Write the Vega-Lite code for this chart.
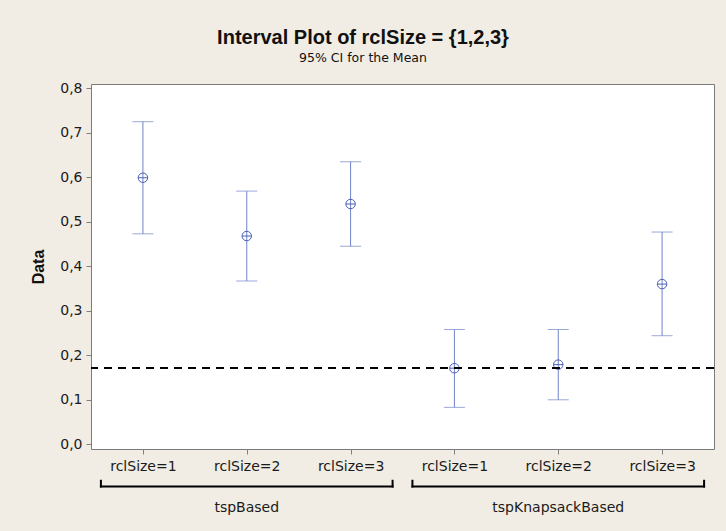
{
  "$schema": "https://vega.github.io/schema/vega-lite/v6.json",
  "autosize": "none",
  "width": 623,
  "height": 365,
  "padding": {"left": 91, "top": 84, "right": 12, "bottom": 82},
  "background": "#f1ede4",
  "config": {
    "view": {"fill": "white", "stroke": "#7a7a7a", "strokeWidth": 1},
    "axis": {"grid": false, "domain": false, "tickSize": 5, "tickColor": "#808080", "labelFont": "DejaVu Sans", "labelFontSize": 14, "labelColor": "#1a1a1a"}
  },
  "title": {
    "text": "Interval Plot of rclSize = {1,2,3}",
    "subtitle": "95% CI for the Mean",
    "anchor": "middle",
    "frame": "group",
    "dx": -39.5,
    "font": "Liberation Sans",
    "fontSize": 20,
    "fontWeight": "bold",
    "color": "#111111",
    "subtitleFont": "DejaVu Sans",
    "subtitleFontSize": 12.5,
    "subtitleColor": "#111111",
    "subtitlePadding": 4,
    "offset": 17
  },
  "data": {
    "values": [
      {"group": "tspBased", "rcl": 1, "idx": 1, "mean": 0.599, "lower": 0.473, "upper": 0.725},
      {"group": "tspBased", "rcl": 2, "idx": 2, "mean": 0.468, "lower": 0.367, "upper": 0.569},
      {"group": "tspBased", "rcl": 3, "idx": 3, "mean": 0.540, "lower": 0.445, "upper": 0.635},
      {"group": "tspKnapsackBased", "rcl": 1, "idx": 4, "mean": 0.171, "lower": 0.083, "upper": 0.258},
      {"group": "tspKnapsackBased", "rcl": 2, "idx": 5, "mean": 0.179, "lower": 0.100, "upper": 0.258},
      {"group": "tspKnapsackBased", "rcl": 3, "idx": 6, "mean": 0.360, "lower": 0.244, "upper": 0.477}
    ]
  },
  "encoding": {
    "x": {
      "field": "idx",
      "type": "quantitative",
      "scale": {"domain": [0.5, 6.5], "nice": false, "zero": false},
      "axis": {
        "title": null,
        "values": [1, 2, 3, 4, 5, 6],
        "labelExpr": "'rclSize=' + ((datum.value - 1) % 3 + 1)",
        "labelPadding": 5
      }
    }
  },
  "layer": [
    {
      "mark": {"type": "rule", "color": "#7083c8", "strokeWidth": 1},
      "encoding": {
        "y": {
          "field": "lower",
          "type": "quantitative",
          "scale": {"domain": [-0.0106, 0.8097], "nice": false, "zero": false},
          "axis": {
            "title": "Data",
            "titleFont": "Liberation Sans",
            "titleFontSize": 16,
            "titleFontWeight": "bold",
            "titleColor": "#111111",
            "titlePadding": 13,
            "values": [0, 0.1, 0.2, 0.3, 0.4, 0.5, 0.6, 0.7, 0.8],
            "labelExpr": "replace(format(datum.value, '.1f'), '.', ',')",
            "labelPadding": 4
          }
        },
        "y2": {"field": "upper"}
      }
    },
    {
      "mark": {"type": "tick", "orient": "horizontal", "color": "#7083c8", "size": 21, "thickness": 1},
      "encoding": {"y": {"field": "lower", "type": "quantitative"}}
    },
    {
      "mark": {"type": "tick", "orient": "horizontal", "color": "#7083c8", "size": 21, "thickness": 1},
      "encoding": {"y": {"field": "upper", "type": "quantitative"}}
    },
    {
      "mark": {"type": "point", "shape": "M-1,0A1,1,0,1,1,1,0A1,1,0,1,1,-1,0ZM-1,0L1,0", "size": 90, "filled": false, "stroke": "#4a5fb8", "strokeWidth": 1, "opacity": 1},
      "encoding": {"y": {"field": "mean", "type": "quantitative"}}
    },
    {
      "mark": {"type": "rule", "color": "#000000", "strokeWidth": 1.5, "strokeDash": [8, 6]},
      "encoding": {"y": {"datum": 0.172}, "x": null}
    },
    {
      "transform": [{"aggregate": [{"op": "min", "field": "idx", "as": "first"}, {"op": "max", "field": "idx", "as": "last"}], "groupby": ["group"]}],
      "layer": [
        {
          "mark": {"type": "rule", "color": "#000000", "strokeWidth": 2, "strokeCap": "square", "xOffset": -42, "x2Offset": 42},
          "encoding": {"x": {"field": "first", "type": "quantitative"}, "x2": {"field": "last"}, "y": {"datum": -0.095}}
        },
        {
          "mark": {"type": "rule", "color": "#000000", "strokeWidth": 2, "strokeCap": "square", "xOffset": -42},
          "encoding": {"x": {"field": "first", "type": "quantitative"}, "y": {"datum": -0.095}, "y2": {"datum": -0.082}}
        },
        {
          "mark": {"type": "rule", "color": "#000000", "strokeWidth": 2, "strokeCap": "square", "xOffset": 42},
          "encoding": {"x": {"field": "last", "type": "quantitative"}, "y": {"datum": -0.095}, "y2": {"datum": -0.082}}
        }
      ]
    },
    {
      "transform": [{"aggregate": [{"op": "mean", "field": "idx", "as": "center"}], "groupby": ["group"]}],
      "mark": {"type": "text", "font": "DejaVu Sans", "fontSize": 14, "color": "#1a1a1a", "baseline": "middle", "align": "center"},
      "encoding": {"x": {"field": "center", "type": "quantitative"}, "y": {"datum": -0.143}, "text": {"field": "group"}}
    }
  ]
}
